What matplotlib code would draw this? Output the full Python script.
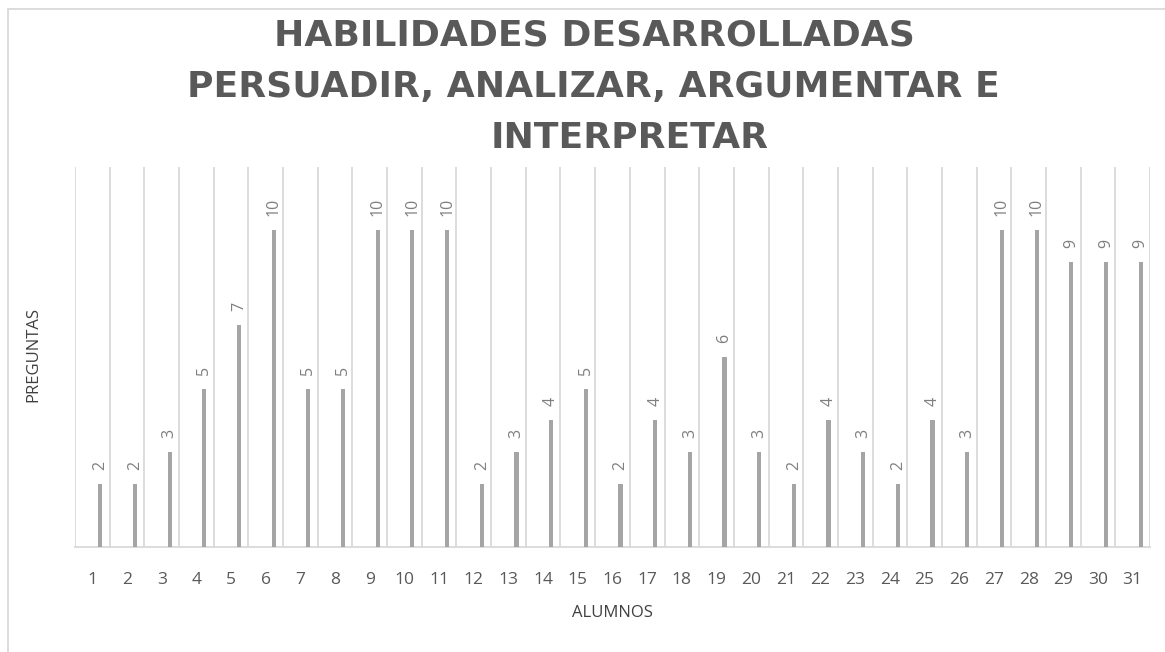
import numpy as np
import matplotlib.pyplot as plt
from matplotlib.patches import Rectangle

alumnos = [str(i) for i in range(1, 32)]
preguntas = [2, 2, 3, 5, 7, 10, 5, 5, 10, 10, 10, 2, 3, 4, 5, 2, 4, 3, 6, 3,
             2, 4, 3, 2, 4, 3, 10, 10, 9, 9, 9]
title_lines = ["HABILIDADES DESARROLLADAS",
               "PERSUADIR, ANALIZAR, ARGUMENTAR E",
               "INTERPRETAR"]

plt.rcParams['font.family'] = ['Open Sans', 'DejaVu Sans']

fig = plt.figure(figsize=(11.65, 6.52), dpi=100)
ax = fig.add_axes([75/1165, 1-547/652, (1150-75)/1165, (547-167)/652])

x = np.arange(1, len(alumnos) + 1)
ax.bar(x + 0.23, preguntas, width=0.12, color='#a5a5a5', zorder=3)
for xi, v in zip(x, preguntas):
    ax.annotate(str(v), (xi + 0.23, v), xytext=(0, 14), textcoords='offset pixels',
                rotation=90, ha='center', va='bottom', fontsize=11.5, color='#7f7f7f')

for b in np.arange(0.5, len(alumnos) + 1, 1):
    ax.axvline(b, color='#d9d9d9', lw=1.3, zorder=1)

ax.set_xlim(0.5, len(alumnos) + 0.5)
ax.set_ylim(0, 12)
ax.set_xticks(x)
ax.set_xticklabels(alumnos, fontsize=12.5, color='#595959')
ax.set_yticks([])
ax.tick_params(axis='x', length=0, pad=18)
for s in ['top', 'right', 'left']:
    ax.spines[s].set_visible(False)
ax.spines['bottom'].set_color('#d9d9d9')
ax.spines['bottom'].set_linewidth(1.3)

ax.set_xlabel('ALUMNOS', fontsize=12, color='#404040', labelpad=12)
fig.text(33/1165, 1-355/652, 'PREGUNTAS', rotation=90, ha='center', va='center',
         fontsize=12, color='#404040')

centers = [594, 593, 630]
baselines = [45, 97, 148]
for line, cx, by in zip(title_lines, centers, baselines):
    fig.text(cx/1165, 1-by/652, line, ha='center', va='baseline', fontsize=26,
             fontweight='bold', color='#595959', family='DejaVu Sans')

fig.add_artist(Rectangle((8/1165, -0.1), 1.2, (652-9)/652 + 0.1, transform=fig.transFigure,
                         fill=False, edgecolor='#d9d9d9', lw=1.3))

fig.savefig('out.png', dpi=100)
